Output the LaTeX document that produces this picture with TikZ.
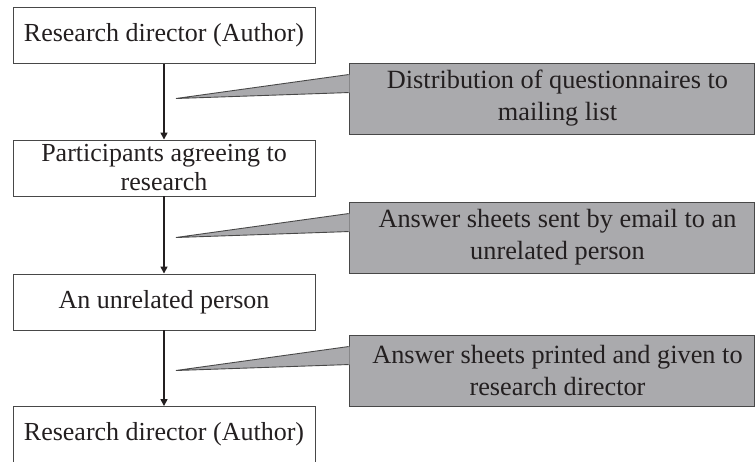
\documentclass[tikz,border=0pt]{standalone}
\usepackage{fontspec}
\setmainfont{Liberation Serif}
\usetikzlibrary{positioning,arrows.meta}
\definecolor{notegray}{RGB}{170,170,173}
\definecolor{edgegray}{RGB}{72,72,72}
\definecolor{inkblack}{RGB}{35,31,32}

\begin{document}
\begin{tikzpicture}[x=1pt,y=-1pt,
  stepbox/.style={draw=edgegray,line width=0.9pt,minimum width=302pt,minimum height=56pt,inner sep=0pt,align=center,text=inkblack,font=\fontsize{26}{29}\selectfont},
  notebox/.style={draw=edgegray,fill=notegray,line width=0.9pt,minimum width=405pt,minimum height=71pt,inner sep=0pt,align=center,text=inkblack,font=\fontsize{26.3}{32}\selectfont},
  flow/.style={-{Triangle[length=7pt,width=7pt]},line width=1.5pt,draw=inkblack}]
\useasboundingbox (0,0) rectangle (755,461);

\node[stepbox] (dir) at (164,35.5) {Research director (Author)};
\node[stepbox] (part) at (164,168) {Participants agreeing to\\research};
\node[stepbox] (person) at (164,302) {An unrelated person};
\node[stepbox] (final) at (164,434.5) {Research director (Author)};

\draw[flow] (dir) -- (part);
\draw[flow] (part) -- (person);
\draw[flow] (person) -- (final);

\node[notebox] (mail) at (551.5,98.5) {\hspace*{12pt}Distribution of questionnaires to\\\hspace*{12pt}mailing list};
\node[notebox] (email) at (551.5,237.5) {\hspace*{12pt}Answer sheets sent by email to an\\\hspace*{12pt}unrelated person};
\node[notebox] (print) at (551.5,370.5) {\hspace*{12pt}Answer sheets printed and given to\\\hspace*{12pt}research director};

\coordinate (mailtip) at (176,98.5);
\coordinate (emailtip) at (176,237.5);
\coordinate (printtip) at (176,370.5);

\foreach \n in {mail,email,print}{
  \fill[notegray] ([xshift=1pt,yshift=-12pt]\n.north west) -- (\n tip) -- ([xshift=1pt,yshift=-30pt]\n.north west) -- cycle;
  \draw[edgegray,line width=0.9pt] ([yshift=-12pt]\n.north west) -- (\n tip) -- ([yshift=-30pt]\n.north west);
}

\end{tikzpicture}
\end{document}
